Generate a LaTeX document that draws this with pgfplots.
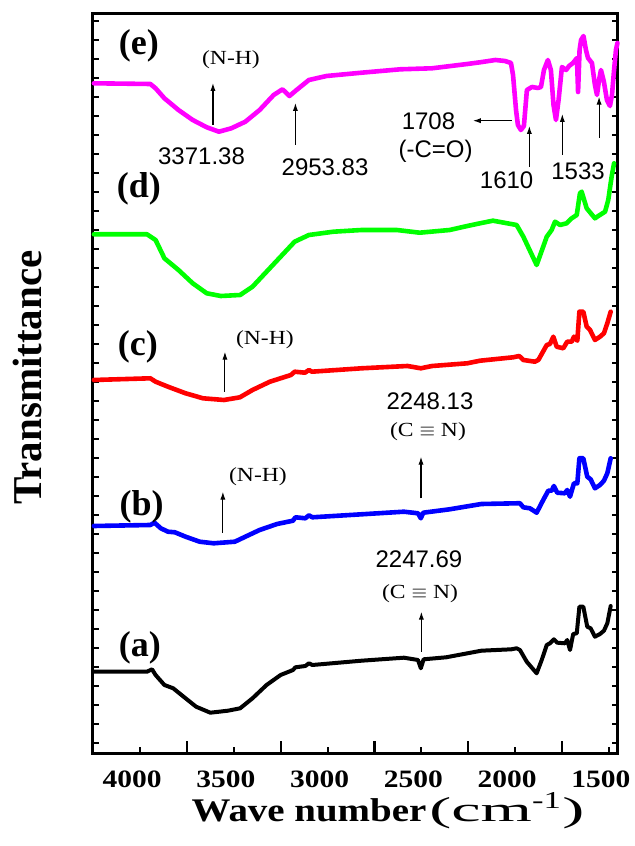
\documentclass[border=0pt]{standalone}
\usepackage{pgfplots}
\pgfplotsset{compat=1.18}
\usetikzlibrary{arrows.meta}
\usepackage{fontspec}
\setmainfont{Liberation Serif}
\newfontfamily\wideserif[FakeStretch=1.18]{Liberation Serif}
\newfontfamily\arialf{Liberation Sans}
\definecolor{mag}{RGB}{255,0,255}
\definecolor{grn}{RGB}{0,255,0}
\definecolor{rd}{RGB}{255,0,0}
\definecolor{bl}{RGB}{0,0,255}
\begin{document}
\begin{tikzpicture}
\begin{axis}[
  scale only axis, width=262.5pt, height=369.5pt,
  x dir=reverse, xmin=1451, xmax=4252, ymin=0, ymax=739,
  xtick={1500,2000,2500,3000,3500,4000},
  minor xtick={1750,2250,2750,3250,3750},
  scaled x ticks=false,
  /pgf/number format/1000 sep={},
  /pgf/number format/assume math mode=true,
  xticklabel style={font=\wideserif\bfseries\fontsize{12.5}{14}\selectfont, inner sep=0pt, xshift=-4pt, yshift=-8.7pt},
  ytick={10,29,...,739}, yticklabels={},
  xtick pos=lower, ytick pos=both,
  tick align=inside,
  major tick length=3.2pt, minor tick length=6pt,
  every tick/.style={black, line width=1.1pt},
  axis line style={line width=1.5pt},
  clip=false,
  every axis plot/.append style={line join=round, line cap=round},
]
% (e) magenta
\addplot[mag, line width=2.3pt] coordinates {
(4247,669.7)(3946,669)(3918,664.7)(3871,654.7)(3796,643)(3720,633)(3645,625.7)(3580,621.3)
(3514,624.7)(3439,631.3)(3363,643)(3288,658)(3241,663.7)(3204,657)(3166,663)(3100,673)
(3006,677)(2819,680.3)(2612,683.7)(2443,684.7)(2255,689)(2187,690.7)(2105,693)(2054,692)
(2022,690)(2011,678)(1995,643)(1985,628)(1969,623)(1953,627)(1937,663)(1910,666)(1878,665)
(1862,666)(1846,683)(1825,693)(1809,683)(1795,648)(1782,633)(1768,653)(1750,686)(1728,683)
(1712,687)(1691,690)(1670,695)(1664,661)(1656,703)(1648,713)(1635,717)(1622,703)(1611,695)
(1590,690)(1574,668)(1563,658)(1552,673)(1542,683)(1526,671)(1510,653)(1494,647)(1483,658)
(1472,683)(1462,703)(1454,710)
};
% (d) green
\addplot[grn, line width=2.3pt] coordinates {
(4247,518.7)(3964,518.7)(3918,513)(3871,494.7)(3796,483)(3720,469.7)(3645,459.7)(3570,457)
(3467,458)(3401,466.3)(3326,481.3)(3251,496.3)(3176,511.3)(3100,518)(2969,521.3)(2819,523)
(2631,523)(2509,520.3)(2349,523)(2255,527)(2187,529.7)(2118,532.3)(1992,528)(1956,516.3)
(1885,488)(1831,516.3)(1805,523)(1787,531.3)(1760,528)(1725,529.7)(1698,534.7)(1671,538)
(1654,559.7)(1645,561.3)(1618,544.7)(1574,534.7)(1556,537)(1520,541.3)(1503,553)(1485,576.3)
(1472,589.7)
};
% (c) red
\addplot[rd, line width=2.3pt] coordinates {
(4247,373)(3946,374.7)(3918,371.3)(3852,366.3)(3758,359.7)(3665,354.7)(3553,353)(3468,355.7)
(3401,363)(3308,371.3)(3196,378)(3176,381.3)(3121,380.3)(3100,383)(3084,381.3)(2819,384.7)
(2574,387)(2503,384.7)(2443,387)(2255,389.7)(2187,392.3)(2010,395.7)(1978,397)(1956,393)
(1894,391.3)(1876,393)(1831,408)(1814,409)(1796,416.3)(1778,406.3)(1743,404.7)(1722,411.3)
(1698,411.3)(1686,416.3)(1668,412.3)(1657,441.3)(1636,441.3)(1618,426.3)(1600,423)(1574,413)
(1547,416.3)(1526,419.7)(1508,429.7)(1490,441.3)
};
% (b) blue
\addplot[bl, line width=2.3pt] coordinates {
(4247,227)(3946,228)(3924,230.3)(3890,224.7)(3852,221.3)(3815,220.7)(3758,216.3)(3683,211.3)
(3608,209.7)(3495,211.3)(3439,216.3)(3363,223)(3270,229)(3185,232.3)(3172,235.7)(3119,234.7)
(3100,237.7)(3082,235.7)(2819,238.7)(2593,241.3)(2518,239.7)(2503,234.7)(2490,240.3)(2349,243.7)
(2180,249)(1992,249.7)(1974,249.7)(1956,245.7)(1921,244.7)(1885,240.3)(1850,253)(1823,262.3)
(1805,262.3)(1793,267)(1775,260.3)(1734,259.7)(1722,263)(1707,256.3)(1686,269.7)(1668,269.7)
(1657,294.7)(1636,294.7)(1615,276.3)(1597,273.7)(1574,264.7)(1547,268)(1526,272.3)(1508,279.7)
(1490,294.7)
};
% (a) black
\addplot[black, line width=2pt] coordinates {
(4247,81.3)(3964,81.3)(3937,83.7)(3918,78)(3871,68)(3824,64.7)(3758,54.7)(3702,46.3)
(3626,40.3)(3532,42.3)(3467,44.7)(3401,54.7)(3326,68)(3251,78)(3185,83)(3172,85.7)(3119,87)
(3100,89.7)(3082,88)(2819,92.3)(2593,95.3)(2518,93)(2503,84.7)(2488,93.7)(2368,95.7)
(2180,102.3)(2020,103.7)(1992,104.7)(1974,103)(1938,91.3)(1885,79.7)(1858,93)(1831,108)
(1814,109.7)(1793,113.7)(1775,110.3)(1734,109.7)(1722,113)(1707,103)(1690,119)(1671,119.7)
(1657,146.3)(1636,146.3)(1615,126.3)(1597,124.7)(1574,116.3)(1547,119)(1526,122.3)(1508,129.7)
(1490,147)
};
% curve labels
\begin{scope}[every node/.style={font=\bfseries\fontsize{18}{20}\selectfont}]
\node at (axis cs:4007,707) {(e)};
\node at (axis cs:4007,564) {(d)};
\node at (axis cs:4012,406) {(c)};
\node at (axis cs:3993,246) {(b)};
\node at (axis cs:4002,105) {(a)};
\end{scope}
% annotations
\tikzset{arr/.style={-{Latex[length=4pt,width=2.6pt]}, line width=0.55pt, black}}
\begin{scope}[every node/.style={font=\arialf\fontsize{12}{14}\selectfont}]
\node at (axis cs:3673,597) {3371.38};
\node at (axis cs:3014,586) {2953.83};
\node at (axis cs:2462,631.3) {1708};
\node at (axis cs:2424,601.3) {(-C=O)};
\node at (axis cs:2045,573) {1610};
\node at (axis cs:1664,581.3) {1533};
\node at (axis cs:2454,352) {2248.13};
\node at (axis cs:2513,193.7) {2247.69};
\end{scope}
\begin{scope}[every node/.style={font=\wideserif\fontsize{10}{12}\selectfont}]
\node at (axis cs:3516,693) {(N-H)};
\node at (axis cs:3335,413) {(N-H)};
\node at (axis cs:3372,276.3) {(N-H)};
\node at (axis cs:2465,321.3) {(C\ $\equiv$\ N)};
\node at (axis cs:2507,159.7) {(C\ $\equiv$\ N)};
\end{scope}
\draw[arr] (axis cs:3612,628) -- (axis cs:3612,670);
\draw[arr] (axis cs:3172,608) -- (axis cs:3172,650);
\draw[arr] (axis cs:2017,632.3) -- (axis cs:2225,632.3);
\draw[arr] (axis cs:1924,586) -- (axis cs:1924,627);
\draw[arr] (axis cs:1748,598) -- (axis cs:1748,639);
\draw[arr] (axis cs:1552,615) -- (axis cs:1552,656.3);
\draw[arr] (axis cs:3548,361.3) -- (axis cs:3548,401.3);
\draw[arr] (axis cs:2502,254.7) -- (axis cs:2502,296.3);
\draw[arr] (axis cs:3559,220.3) -- (axis cs:3559,261.3);
\draw[arr] (axis cs:2500,101.3) -- (axis cs:2500,141.3);
% axis titles
\node[rotate=90, font=\bfseries\fontsize{20.5}{24}\selectfont] at (axis description cs:-0.1248,0.508) {Transmittance};
\node[anchor=base, inner sep=0pt] at (axis description cs:0.562,-0.0925) {{\wideserif\bfseries\fontsize{16.5}{18}\selectfont Wave number}\hspace{1.5pt}{\fontsize{16.5}{18}\selectfont\scalebox{2.0}[1.05]{(cm}\scalebox{1.5}[1.05]{\textsuperscript{-1}}\scalebox{2.0}[1.05]{)}}};
\coordinate (BL) at (rel axis cs:0,0);
\coordinate (TR) at (rel axis cs:1,1);
\end{axis}
\pgfresetboundingbox
\path[use as bounding box] ([xshift=-46.5pt,yshift=-46.5pt]BL) rectangle ([xshift=8pt,yshift=7pt]TR);
\end{tikzpicture}
\end{document}
